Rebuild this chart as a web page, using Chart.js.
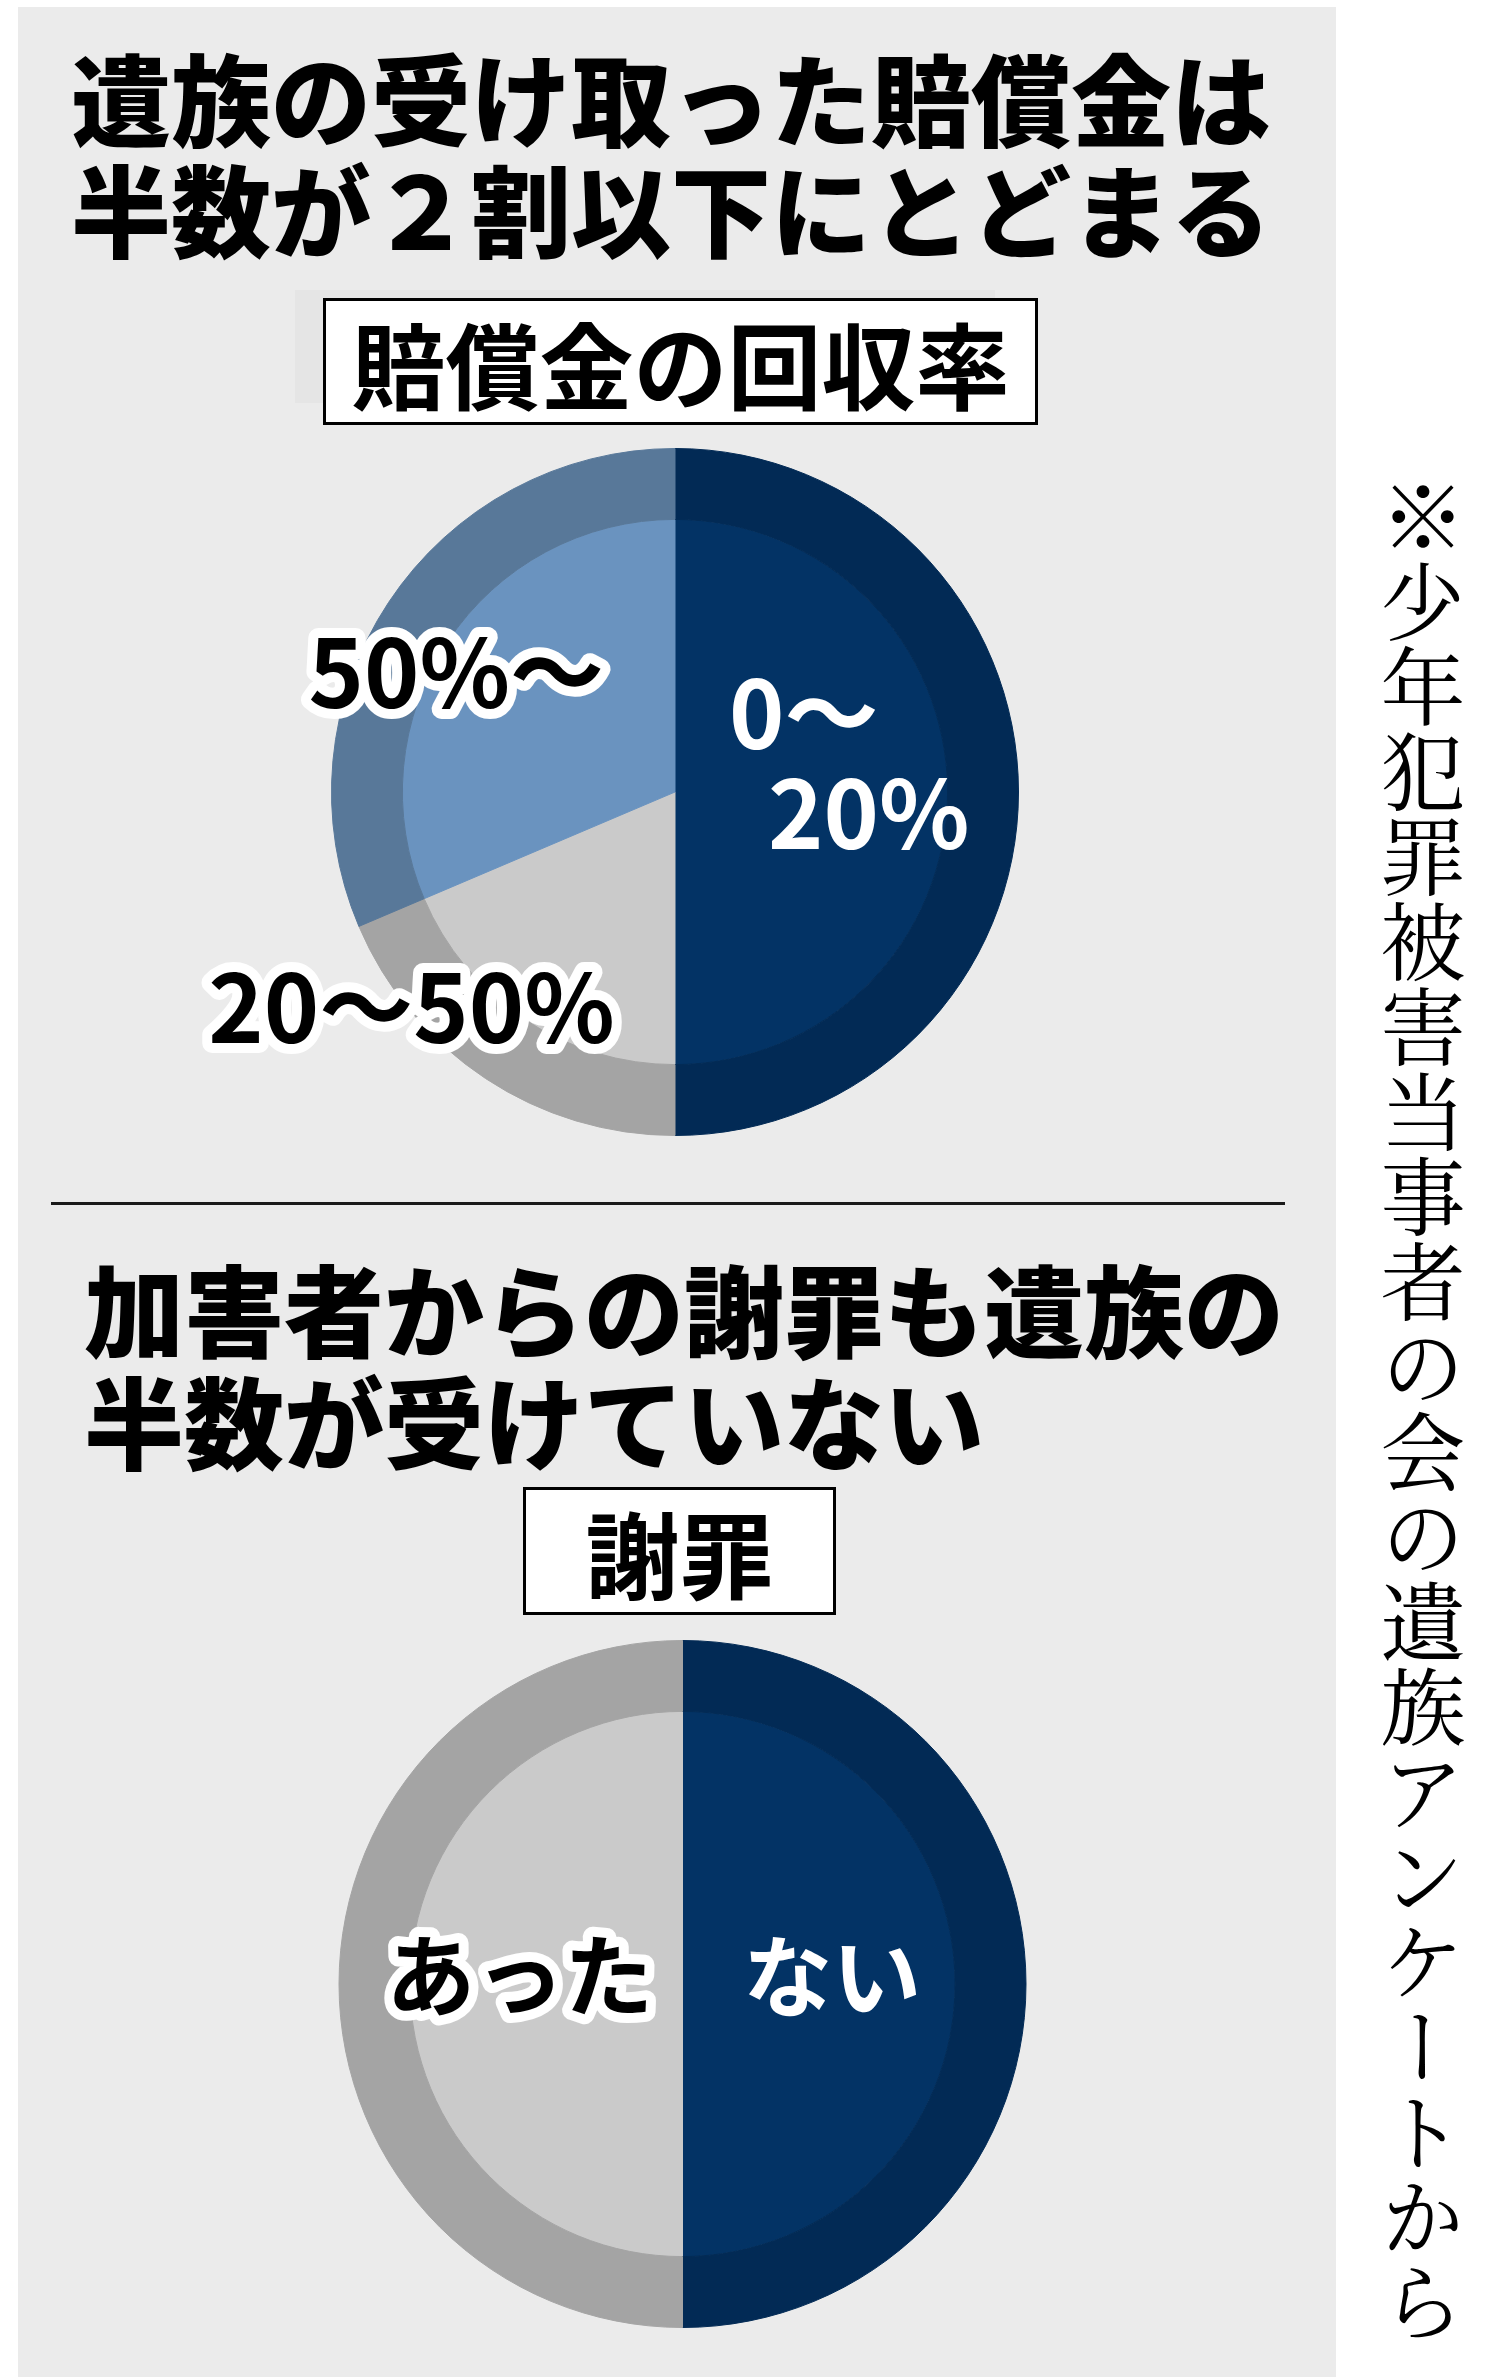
<!DOCTYPE html>
<html lang="ja">
<head>
<meta charset="utf-8">
<script src="https://cdn.jsdelivr.net/npm/chart.js@4/dist/chart.umd.min.js"></script>
<style>
  html, body { margin: 0; padding: 0; background: #ffffff; }
  body { width: 1485px; height: 2377px; position: relative; overflow: hidden;
         font-family: "Noto Sans CJK JP", "Noto Sans", sans-serif; }
  .panel { position: absolute; left: 18px; top: 7px; width: 1318px; height: 2370px; background: #ebebeb; }
  .title { position: absolute; font-size: 100px; line-height: 100px; font-weight: 900; color: #000; white-space: nowrap; }
  .box { position: absolute; box-sizing: border-box; border: 3px solid #000; background: #fff;
         display: flex; align-items: center; justify-content: center;
         font-size: 94px; line-height: 94px; font-weight: 700; color: #000; white-space: nowrap; }
  .shadow { position: absolute; background: #e5e5e5; }
  .rule { position: absolute; left: 51px; top: 1202px; width: 1234px; height: 3px; background: #1a1a1a; }
  .note { position: absolute; left: 1380px; top: 474px; width: 85px; height: 1880px;
          writing-mode: vertical-rl; font-size: 85px; line-height: 85px; font-weight: 400;
          font-family: "Noto Serif CJK JP", "Noto Sans CJK JP", serif; color: #000; white-space: nowrap; }
  canvas { position: absolute; }
</style>
</head>
<body>
<div class="panel"></div>

<div class="title" style="left:71px; top:46px;">遺族の受け取った賠償金は</div>
<div class="title" style="left:71px; top:157px;">半数が２割以下にとどまる</div>

<div class="shadow" style="left:295px; top:290px; width:700px; height:113px;"></div>
<div class="box" style="left:323px; top:298px; width:715px; height:127px;">賠償金の回収率</div>

<canvas id="pie1" width="1100" height="720" style="left:150px; top:430px; width:1100px; height:720px;"></canvas>

<div class="rule"></div>

<div class="title" style="left:84px; top:1257px;">加害者からの謝罪も遺族の</div>
<div class="title" style="left:84px; top:1369px;">半数が受けていない</div>

<div class="box" style="left:523px; top:1487px; width:313px; height:128px;">謝罪</div>

<canvas id="pie2" width="1100" height="740" style="left:150px; top:1620px; width:1100px; height:740px;"></canvas>

<div class="note">※少年犯罪被害当事者の会の遺族アンケートから</div>

<script>
// ---- data ----
const pie1Categories = ['0〜20%', '20〜50%', '50%〜'];
const pie1Values = [50, 18.6, 31.4];
const pie2Categories = ['ない', 'あった'];
const pie2Values = [50, 50];

// ---- styles ----
const pie1Outer = ['#022a55', '#a4a4a4', '#587899'];
const pie1Inner = ['#033365', '#cacaca', '#6a93bf'];
const pie2Outer = ['#022a55', '#a4a4a4'];
const pie2Inner = ['#033365', '#cacaca'];

// label placement (offsets of ink centre, as fraction of outer radius)
const pie1Layout = [
  { idx: 0, text: pie1Categories[0].slice(0, 2), dx: 0.375, dy: -0.224, color: '#fff', outline: false },
  { idx: 0, text: pie1Categories[0].slice(2),    dx: 0.564, dy: 0.067,  color: '#fff', outline: false },
  { idx: 1, text: pie1Categories[1],             dx: -0.767, dy: 0.631, color: '#000', outline: true },
  { idx: 2, text: pie1Categories[2],             dx: -0.637, dy: -0.343, color: '#000', outline: true }
];
const pie2Layout = [
  { idx: 0, text: pie2Categories[0], dx: 0.436,  dy: -0.023, color: '#fff', outline: false, kana: true },
  { idx: 1, text: pie2Categories[1], dx: -0.474, dy: -0.026, color: '#000', outline: true, kana: true }
];

const labelPlugin = {
  id: 'sliceLabels',
  afterDatasetsDraw(chart, args, opts) {
    const meta = chart.getDatasetMeta(0);
    const arc = meta.data[0];
    if (!arc) return;
    const cx = arc.x, cy = arc.y, r = arc.outerRadius;
    const ctx = chart.ctx;
    ctx.save();
    for (const l of opts.layout) {
      const size = l.kana ? opts.kanaSize : opts.size;
      ctx.font = '700 ' + size + 'px "Noto Sans CJK JP", "Noto Sans", sans-serif';
      ctx.textAlign = 'center';
      ctx.textBaseline = 'alphabetic';
      const x = cx + l.dx * r;
      const y = cy + l.dy * r + size * (l.kana ? 0.38 : 0.365);
      if (l.outline) {
        ctx.lineJoin = 'round';
        ctx.lineWidth = 20;
        ctx.strokeStyle = '#ffffff';
        ctx.strokeText(l.text, x, y);
      }
      ctx.fillStyle = l.color;
      ctx.fillText(l.text, x, y);
    }
    ctx.restore();
  }
};

function makePie(id, cats, vals, outer, inner, padding, layout) {
  return new Chart(document.getElementById(id), {
    type: 'pie',
    data: {
      labels: cats,
      datasets: [
        { data: vals, backgroundColor: outer, borderColor: outer, borderWidth: 1, weight: 71, hoverOffset: 0 },
        { data: vals, backgroundColor: inner, borderColor: inner, borderWidth: 1, weight: 273, hoverOffset: 0 }
      ]
    },
    options: {
      responsive: false,
      animation: false,
      events: [],
      layout: { padding: padding },
      plugins: {
        legend: { display: false },
        tooltip: { enabled: false },
        sliceLabels: { layout: layout, size: 94, kanaSize: 89 }
      }
    },
    plugins: [labelPlugin]
  });
}

makePie('pie1', pie1Categories, pie1Values, pie1Outer, pie1Inner,
        { left: 181, top: 18, right: 231, bottom: 14 }, pie1Layout);
makePie('pie2', pie2Categories, pie2Values, pie2Outer, pie2Inner,
        { left: 188.5, top: 20, right: 223.5, bottom: 32 }, pie2Layout);
</script>
</body>
</html>
